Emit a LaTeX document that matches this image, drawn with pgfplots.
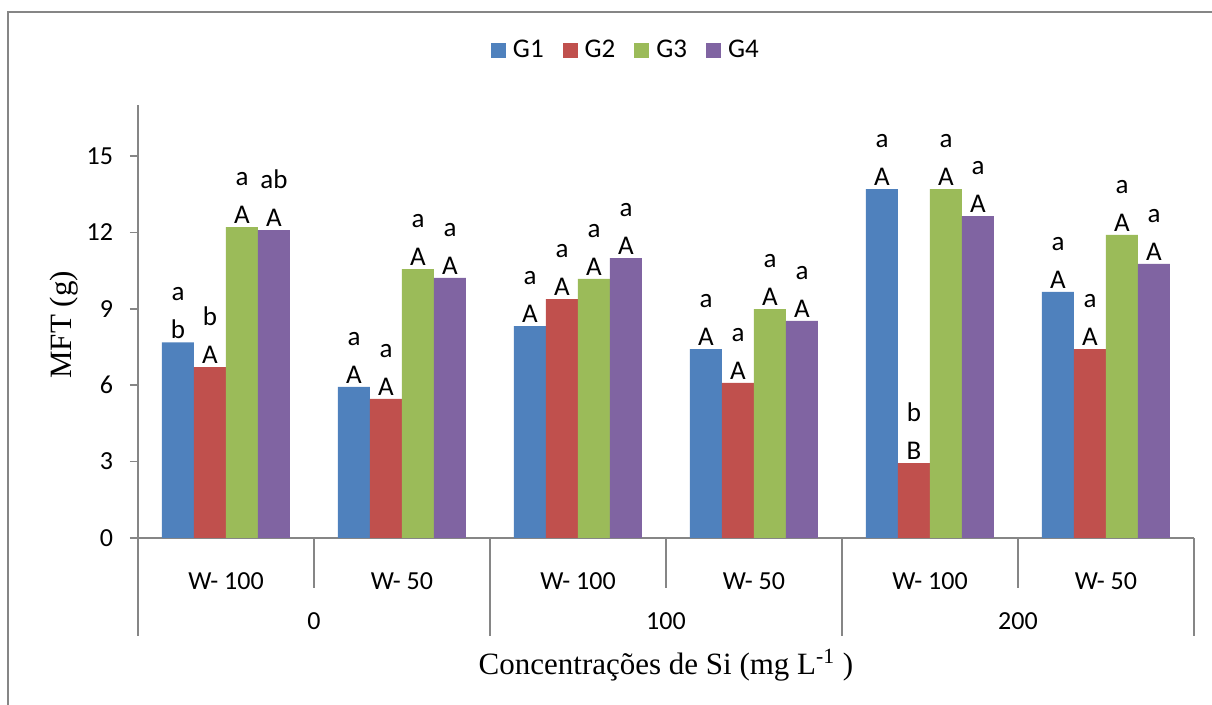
\documentclass[border=0pt]{standalone}
\usepackage{pgfplots}
\pgfplotsset{compat=1.18}
\usepackage{fontspec}
\setmainfont{Liberation Serif}
\newfontfamily\calibri{Carlito}
\definecolor{cA}{HTML}{4F81BD}
\definecolor{cB}{HTML}{C0504D}
\definecolor{cC}{HTML}{9BBB59}
\definecolor{cD}{HTML}{8064A2}
\definecolor{axgray}{HTML}{868686}
\begin{document}
\begin{tikzpicture}
\path[use as bounding box] (0,0) rectangle (606pt,-352.5pt);
\draw[axgray, line width=1pt] (4pt,-352.5pt) -- (4pt,-6pt) -- (606pt,-6pt);
\begin{axis}[
  at={(69pt,-269pt)}, anchor=south west,
  width=528pt, height=216.5pt, scale only axis,
  xmin=-0.5, xmax=5.5, ymin=0, ymax=17,
  ybar=0pt, bar width=16pt,
  axis x line*=bottom, axis y line*=left,
  axis line style={axgray, line width=0.8pt},
  tick style={axgray, line width=0.8pt},
  tick align=outside, major tick length=4pt,
  ytick={0,3,...,15},
  xtick={0,1,2,3,4,5},
  xticklabels={W- 100, W- 50, W- 100, W- 50, W- 100, W- 50},
  major x tick style={draw=none},
  /pgf/number format/assume math mode=true,
  ticklabel style={font=\calibri\fontsize{13}{15}\selectfont},
  yticklabel style={xshift=-5pt},
  xticklabel style={anchor=center, yshift=-17.5pt},
  ylabel={MFT (g)},
  ylabel style={at={(axis description cs:-0.070,0.492)}, anchor=center, font=\fontsize{15.5}{18}\selectfont},
  clip=false,
  legend columns=4,
  legend style={at={(axis description cs:0.463,1.127)}, anchor=center, draw=none,
    font=\calibri\fontsize{13.5}{15}\selectfont,
    /tikz/every even column/.append style={column sep=7.5pt}},
  legend image code/.code={\fill[#1] (0pt,-3.75pt) rectangle (7.5pt,3.75pt); \path (9pt,0pt);},
  point meta=explicit symbolic,
  nodes near coords,
  every node near coord/.append style={font=\calibri\fontsize{13.5}{19}\selectfont, align=center, inner sep=1.5pt, anchor=south, black},
]
\addplot[fill=cA, draw=none] coordinates {
  (0,7.68) [a\\b] (1,5.93) [a\\A] (2,8.32) [a\\A] (3,7.42) [a\\A] (4,13.70) [a\\A] (5,9.66) [a\\A]};
\addplot[fill=cB, draw=none] coordinates {
  (0,6.71) [b\\A] (1,5.46) [a\\A] (2,9.38) [a\\A] (3,6.09) [a\\A] (4,2.94) [b\\B] (5,7.42) [a\\A]};
\addplot[fill=cC, draw=none] coordinates {
  (0,12.21) [a\\A] (1,10.56) [a\\A] (2,10.17) [a\\A] (3,8.99) [a\\A] (4,13.70) [a\\A] (5,11.90) [a\\A]};
\addplot[fill=cD, draw=none] coordinates {
  (0,12.09) [ab\\A] (1,10.21) [a\\A] (2,10.99) [a\\A] (3,8.52) [a\\A] (4,12.64) [a\\A] (5,10.76) [a\\A]};
\legend{G1,G2,G3,G4}
% category separators
\draw[axgray, line width=0.6pt] (axis cs:-0.5,0) -- (axis cs:-0.5,-3.85);
\draw[axgray, line width=0.6pt] (axis cs:1.5,0) -- (axis cs:1.5,-3.85);
\draw[axgray, line width=0.6pt] (axis cs:3.5,0) -- (axis cs:3.5,-3.85);
\draw[axgray, line width=0.6pt] (axis cs:5.5,0) -- (axis cs:5.5,-3.85);
\draw[axgray, line width=0.6pt] (axis cs:0.5,0) -- (axis cs:0.5,-1.96);
\draw[axgray, line width=0.6pt] (axis cs:2.5,0) -- (axis cs:2.5,-1.96);
\draw[axgray, line width=0.6pt] (axis cs:4.5,0) -- (axis cs:4.5,-1.96);
\node[font=\calibri\fontsize{13}{15}\selectfont] at (axis cs:0.5,-3.26) {0};
\node[font=\calibri\fontsize{13}{15}\selectfont] at (axis cs:2.5,-3.26) {100};
\node[font=\calibri\fontsize{13}{15}\selectfont] at (axis cs:4.5,-3.26) {200};
\node[font=\fontsize{15.5}{18}\selectfont] at (axis cs:2.5,-4.99) {Concentrações de Si (mg L\textsuperscript{-1} )};
\end{axis}
\end{tikzpicture}
\end{document}
